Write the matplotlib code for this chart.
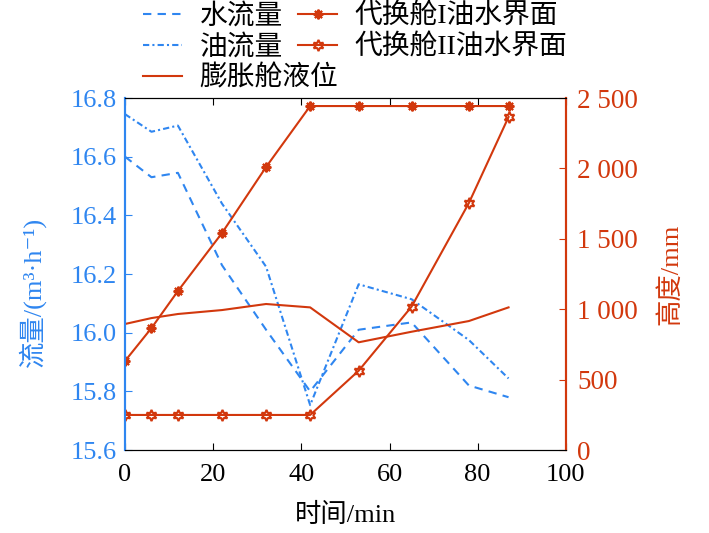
import numpy as np
import matplotlib
matplotlib.use('Agg')
import matplotlib.pyplot as plt
from matplotlib.ticker import FuncFormatter

plt.rcParams['font.family'] = ['Liberation Serif', 'Noto Sans CJK SC', 'DejaVu Sans']

blue = '#2f86f0'
red = '#d2380d'

# time (min)
t = [0, 6, 12, 22, 32, 42, 53, 65, 78, 87]
# flow (m3/h)
water_flow = [16.60, 16.53, 16.545, 16.23, 16.01, 15.80, 16.01, 16.035, 15.82, 15.78]
oil_flow = [16.745, 16.685, 16.706, 16.44, 16.225, 15.753, 16.165, 16.114, 15.975, 15.844]
# heights (mm)
exp_level = [895, 937, 966, 994, 1037, 1013, 765, 840, 916, 1013]
tank1_iface = [632, 866, 1129, 1541, 2010, 2443, 2443, 2443, 2443, 2443]
tank2_iface = [249, 249, 249, 249, 249, 249, 563, 1018, 1754, 2365]

fig = plt.figure(figsize=(7.09, 5.33), dpi=100)
ax1 = fig.add_axes([0.1763, 0.1557, 0.6218, 0.6604])
ax2 = ax1.twinx()

l1, = ax1.plot(t, water_flow, color=blue, ls=(0, (4, 3)), lw=1.5)
l2, = ax1.plot(t, oil_flow, color=blue, ls=(0, (3, 1.5, 1, 1.5)), lw=1.5)
l3, = ax2.plot(t, exp_level, color=red, lw=1.5)
l4, = ax2.plot(t, tank1_iface, color=red, lw=1.5, marker=(8, 2, 0), ms=7, mew=1.5)
l5, = ax2.plot(t, tank2_iface, color=red, lw=1.5, marker=(6, 1, 0), ms=8,
               mfc='none', mew=1.5)

ax1.set_xlim(0, 100)
ax1.set_ylim(15.6, 16.8)
ax2.set_ylim(0, 2500)
ax1.set_xticks(np.arange(0, 101, 20))
ax1.set_yticks(np.arange(15.6, 16.81, 0.2))
ax2.set_yticks(np.arange(0, 2501, 500))
ax1.yaxis.set_major_formatter(FuncFormatter(lambda v, p: f'{v:.1f}'))
ax2.yaxis.set_major_formatter(FuncFormatter(lambda v, p: f'{int(v):,}'.replace(',', ' ')))

ax1.tick_params(axis='x', direction='in', top=True, length=5, labelsize=19, colors='k', pad=10)
ax1.tick_params(axis='y', direction='in', length=5, labelsize=19, colors=blue, pad=6)
ax2.tick_params(axis='y', direction='in', length=5, labelsize=19.5, colors=red, pad=8)

for a in (ax1, ax2):
    a.spines['left'].set_color(blue)
    a.spines['right'].set_color(red)
    a.spines['left'].set_linewidth(1.5)
    a.spines['right'].set_linewidth(1.5)
    a.spines['top'].set_color('k')
    a.spines['bottom'].set_color('k')

ax1.set_xlabel('时间/min', fontsize=19, labelpad=12)
ax1.set_ylabel('流量/(m³·h⁻¹)', fontsize=19, color=blue, labelpad=2)
ax1.yaxis.set_label_coords(-0.18, 0.45)
ax2.set_ylabel('高度/mm', fontsize=19, color=red, labelpad=14)

leg_kw = dict(frameon=False, fontsize=20, loc='upper left', borderpad=0,
              borderaxespad=0, handlelength=1.42, handletextpad=0.62,
              labelspacing=0.17)
leg1 = fig.legend([l1, l2, l3], ['水流量', '油流量', '膨胀舱液位'],
                  bbox_to_anchor=(143 / 709, 1 - 4 / 533), **leg_kw)
leg2 = fig.legend([l4, l5], ['代换舱I油水界面', '代换舱II油水界面'],
                  bbox_to_anchor=(298 / 709, 1 - 4 / 533), **leg_kw)

fig.savefig('out.png', dpi=100)
